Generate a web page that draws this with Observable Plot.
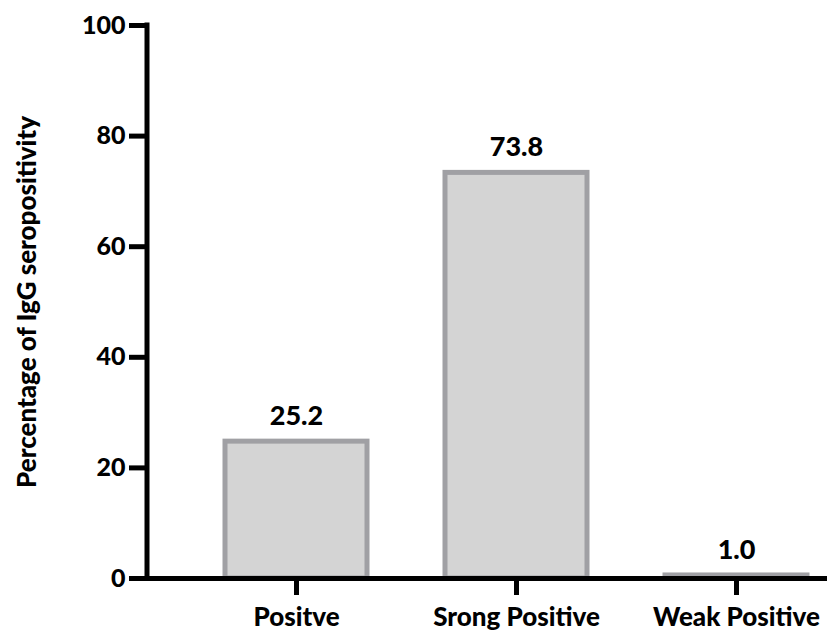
<!DOCTYPE html>
<html>
<head>
<meta charset="utf-8">
<script src="https://cdn.jsdelivr.net/npm/d3@7"></script>
<script src="https://cdn.jsdelivr.net/npm/@observablehq/plot@0.6"></script>
<style>
  html, body { margin: 0; padding: 0; background: #fff; }
  #chart svg { display: block; }
</style>
</head>
<body>
<div id="chart"></div>
<script>
const categories = ["Positve", "Srong Positive", "Weak Positive"];
const values = [25.2, 73.8, 1.0];
const valueLabels = ["25.2", "73.8", "1.0"];
const yTicks = [0, 20, 40, 60, 80, 100];
const yLabel = "Percentage of IgG seropositivity";

const data = categories.map((c, i) => ({category: c, value: values[i], label: valueLabels[i]}));

const FONT = "Lato, 'Open Sans', sans-serif";

const yAxisLine = (index, scales, vals, dims) => {
  const l = d3.create("svg:line")
    .attr("x1", dims.marginLeft).attr("x2", dims.marginLeft)
    .attr("y1", scales.y(100) - 2.5).attr("y2", scales.y(0) + 2.5)
    .attr("stroke", "#000").attr("stroke-width", 5);
  return l.node();
};

const chart = Plot.plot({
  width: 827,
  height: 631,
  marginLeft: 147,
  marginRight: 0,
  marginTop: 25,
  marginBottom: 53,
  style: {fontFamily: FONT, fontWeight: "900", color: "#000", background: "#fff"},
  x: {domain: categories, paddingInner: 0.353, paddingOuter: 0.215, align: 0.795},
  y: {domain: [0, 100]},
  marks: [
    Plot.barY(data, {x: "category", y: "value", fill: "#d4d4d4", stroke: "#a0a0a4", strokeWidth: 5, insetTop: 2.5}),
    Plot.text(data, {x: "category", y: "value", text: "label", lineAnchor: "bottom", dy: -14, fontSize: 27, fontWeight: "900", fill: "#000"}),
    Plot.axisY({ticks: yTicks, tickSize: 18, tickPadding: 4, strokeWidth: 5, fontSize: 25, fontWeight: "900",
      label: null}),
    Plot.axisY({ticks: [], tickSize: 0, fontSize: 26, fontWeight: "900",
      label: yLabel, labelAnchor: "center", labelOffset: 130, labelArrow: "none"}),
    Plot.axisX({tickSize: 17, tickPadding: 12, strokeWidth: 5, fontSize: 26, fontWeight: "900", label: null}),
    Plot.ruleY([0], {strokeWidth: 5, stroke: "#000"}),
    yAxisLine
  ]
});
document.getElementById("chart").appendChild(chart);
</script>
</body>
</html>
